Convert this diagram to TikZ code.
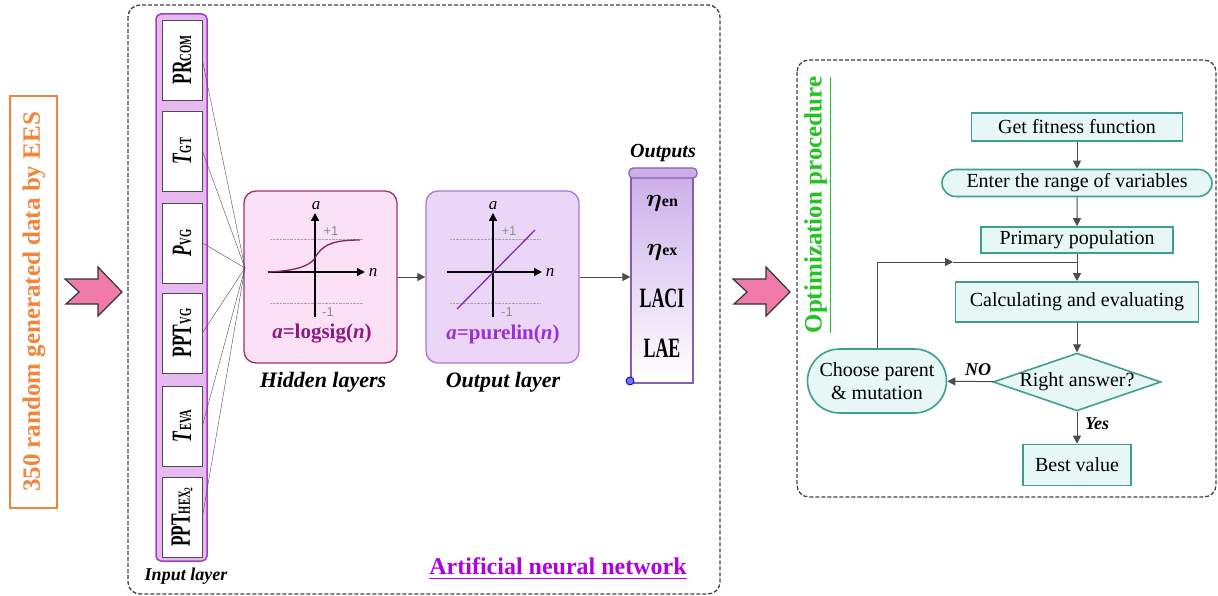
\documentclass[tikz,border=0pt]{standalone}
\usepackage{amsmath}
\usepackage{fontspec}
\setmainfont{Liberation Serif}
\newfontfamily\axisfont{Liberation Sans}
\usetikzlibrary{shapes.geometric,shapes.misc,arrows.meta}

\definecolor{hidfill}{HTML}{FCE0F6}
\definecolor{hidline}{HTML}{A0306F}
\definecolor{hidtext}{HTML}{8A1A80}
\definecolor{outfill}{HTML}{EBD6F8}
\definecolor{outline}{HTML}{A878DC}
\definecolor{outtext}{HTML}{9A2FD6}
\definecolor{colfill}{HTML}{E8B8F0}
\definecolor{colline}{HTML}{A040C0}
\definecolor{flowline}{HTML}{3F9F8F}
\definecolor{flowfill}{HTML}{E6F7F5}
\definecolor{arrowpink}{HTML}{F07BA8}
\definecolor{eesorange}{HTML}{F4843A}
\definecolor{optgreen}{HTML}{22C322}
\definecolor{annpurple}{HTML}{B000E0}

\newcommand{\inlabel}[2]{\scalebox{0.62}[1]{\fontsize{28}{30}\selectfont\bfseries #1{\fontsize{17}{18}\selectfont #2}}}

\begin{document}
\begin{tikzpicture}[x=1pt, y=-1pt,
    inbox/.style={draw=black!70, fill=white, thick, rotate=90,
      minimum width=80, minimum height=40, inner sep=0},
    layerbox/.style={rounded corners=12, line width=1.3pt,
      minimum width=153, minimum height=172},
    flowbox/.style={draw=flowline, fill=flowfill, line width=1.6pt,
      font=\fontsize{20}{23}\selectfont},
    flowarr/.style={-{Triangle[length=8pt,width=8pt]}, black!70, line width=1pt},
    axisarr/.style={-{Triangle[length=8pt,width=8pt]}, line width=1.3pt},
    bigarrow/.style={draw=black!80, fill=arrowpink, line width=1.2pt},
    frame/.style={black!75, line width=1.3pt, dash pattern=on 4pt off 2pt, rounded corners=12},
  ]
  \useasboundingbox (0,0) rectangle (1218,596);

  % data source
  \draw[eesorange, line width=1.5pt] (10,96) rectangle (57,508);
  \node[rotate=90, text=eesorange, font=\fontsize{25}{27}\selectfont\bfseries] (ees) at (34,302)
    {350 random generated data by EES};
  \draw[bigarrow] (65,279) -- (98,279) -- (98,267) -- (122,292) -- (98,316) -- (98,304)
    -- (66,304) -- (79,292) -- cycle;

  % neural network
  \draw[frame] (128,5) rectangle (720,594);
  \draw[colline, fill=colfill, line width=1.5pt, rounded corners=5] (156,14) rectangle (207,561);

  \node[inbox] (in1) at (182,60) {\inlabel{PR}{COM}};
  \node[inbox] (in2) at (182,151) {\inlabel{\textit{T}}{GT}};
  \node[inbox] (in3) at (182,243) {\inlabel{\textit{P}}{VG}};
  \node[inbox] (in4) at (182,333) {\inlabel{PPT}{VG}};
  \node[inbox] (in5) at (182,426) {\inlabel{\textit{T}}{EVA}};
  \node[inbox] (in6) at (182,517) {\inlabel{PPT}{HEX\textsubscript{2}}};
  \node[font=\fontsize{18}{20}\selectfont\bfseries\itshape] (inlab) at (186,576) {Input layer};

  \node[layerbox, draw=hidline, fill=hidfill] (hid) at (320.5,277) {};
  \node[layerbox, draw=outline, fill=outfill] (outl) at (502.5,277) {};
  \coordinate (hub) at (245,268);
  \foreach \i in {1,...,6}
    \draw[black!70] (in\i.south) -- (hub);

  % logsig graph
  \draw[black!35, densely dotted] (270,239) -- (363,239) (270,303) -- (363,303);
  \draw[axisarr] (268,272) -- (365,272);
  \draw[axisarr] (315,317) -- (315,213);
  \draw[hidline!80!black, line width=1.3pt] (268,272) .. controls (295,271) and (310,266) .. (315,258)
    .. controls (322,244) and (335,240) .. (360,240);
  \node[font=\fontsize{17}{18}\selectfont\itshape] (ha) at (316,206) {a};
  \node[font=\fontsize{17}{18}\selectfont\itshape] (hn) at (373,272) {n};
  \node[black!45, font=\axisfont\fontsize{13}{14}\selectfont] (hp) at (331,231) {+1};
  \node[black!45, font=\axisfont\fontsize{13}{14}\selectfont] (hm) at (328,312) {-1};
  \node[text=hidtext, font=\fontsize{21}{23}\selectfont\bfseries] (hf) at (322,334) {\textit{a}=logsig(\textit{n})};
  \node[font=\fontsize{22}{24}\selectfont\bfseries\itshape] (hl) at (323,382) {Hidden layers};

  % purelin graph
  \draw[black!35, densely dotted] (450,239) -- (540,239) (450,303) -- (540,303);
  \draw[axisarr] (447,272) -- (542,272);
  \draw[axisarr] (493,317) -- (493,213);
  \draw[outtext!85!black, line width=1.3pt] (457,309) -- (535,230);
  \node[font=\fontsize{17}{18}\selectfont\itshape] (oa) at (493,206) {a};
  \node[font=\fontsize{17}{18}\selectfont\itshape] (on) at (550,272) {n};
  \node[black!45, font=\axisfont\fontsize{13}{14}\selectfont] (op) at (509,231) {+1};
  \node[black!45, font=\axisfont\fontsize{13}{14}\selectfont] (om) at (507,312) {-1};
  \node[text=outtext, font=\fontsize{21}{23}\selectfont\bfseries] (of) at (503,334) {\textit{a}=purelin(\textit{n})};
  \node[font=\fontsize{22}{24}\selectfont\bfseries\itshape] (ol) at (503,382) {Output layer};

  % outputs
  \node[draw=outline!80!black, line width=1.2pt, top color=outline!60, bottom color=white,
    minimum width=62, minimum height=212, inner sep=0] (outs) at (662,277) {};
  \draw[outline!80!black, fill=outline!60, line width=1.2pt, rounded corners=4] (629,168) rectangle (697,178);
  \draw[blue!70!black, fill=blue!55, thick] (630,381) circle (4);
  \node[font=\fontsize{20}{22}\selectfont\bfseries\itshape] (outlab) at (663,153) {Outputs};
  \node[font=\fontsize{16}{18}\selectfont\bfseries] (y1) at (662,203) {\fontsize{26}{28}\selectfont$\boldsymbol{\eta}$\fontsize{16}{18}\selectfont en};
  \node[font=\fontsize{16}{18}\selectfont\bfseries] (y2) at (662,252) {\fontsize{26}{28}\selectfont$\boldsymbol{\eta}$\fontsize{16}{18}\selectfont ex};
  \node[font=\fontsize{28}{30}\selectfont\bfseries] (y3) at (662,298) {\scalebox{0.64}[1]{LACI}};
  \node[font=\fontsize{28}{30}\selectfont\bfseries] (y4) at (662,348) {\scalebox{0.64}[1]{LAE}};

  \draw[flowarr] (hid.east) -- (outl.west);
  \draw[flowarr] (outl.east) -- (outs.west);
  \node[text=annpurple, font=\fontsize{24}{26}\selectfont\bfseries] (ann) at (558,569) {\underline{Artificial neural network}};

  \begin{scope}[shift={(668,0)}]
    \draw[bigarrow] (65,279) -- (98,279) -- (98,267) -- (122,292) -- (98,316) -- (98,304)
      -- (66,304) -- (79,292) -- cycle;
  \end{scope}

  % optimization procedure
  \draw[frame] (797,60) rectangle (1216,497);
  \node[rotate=90, text=optgreen, font=\fontsize{25}{27}\selectfont\bfseries] (opt) at (818,205)
    {\underline{Optimization procedure}};

  \node[flowbox, minimum width=211, minimum height=28, inner sep=1] (fit) at (1077,127) {Get fitness function};
  \node[flowbox, rounded rectangle, minimum width=272, minimum height=27, inner sep=1] (rng) at (1077,183) {Enter the range of variables};
  \node[flowbox, minimum width=192, minimum height=26, inner sep=1] (pop) at (1077,240) {Primary population};
  \node[flowbox, minimum width=243, minimum height=40, inner sep=1] (calc) at (1077,302) {Calculating and evaluating};
  \node[flowbox, diamond, aspect=2.9, inner sep=0] (ans) at (1077,382) {Right answer?};
  \node[flowbox, rounded rectangle, align=center, minimum width=141, minimum height=64, inner sep=1] (par) at (877,381) {Choose parent\\\& mutation};
  \node[flowbox, minimum width=108, minimum height=41] (best) at (1077,465) {Best value};

  \coordinate (jn) at (1077,262);
  \coordinate (mk) at (953,262);
  \draw[flowarr] (fit) -- (rng);
  \draw[flowarr] (rng) -- (pop);
  \draw[flowarr] (pop) -- (calc);
  \draw[flowarr] (calc) -- (ans);
  \draw[flowarr] (ans) -- (par);
  \draw[flowarr] (ans) -- (best);
  \draw[flowarr] (par.north) |- (mk);
  \draw[black!70, line width=1pt] (mk) -- (jn);
  \node[font=\fontsize{18}{20}\selectfont\bfseries\itshape] (no) at (978,370) {NO};
  \node[font=\fontsize{18}{20}\selectfont\bfseries\itshape] (yes) at (1097,424) {Yes};
\end{tikzpicture}
\end{document}
